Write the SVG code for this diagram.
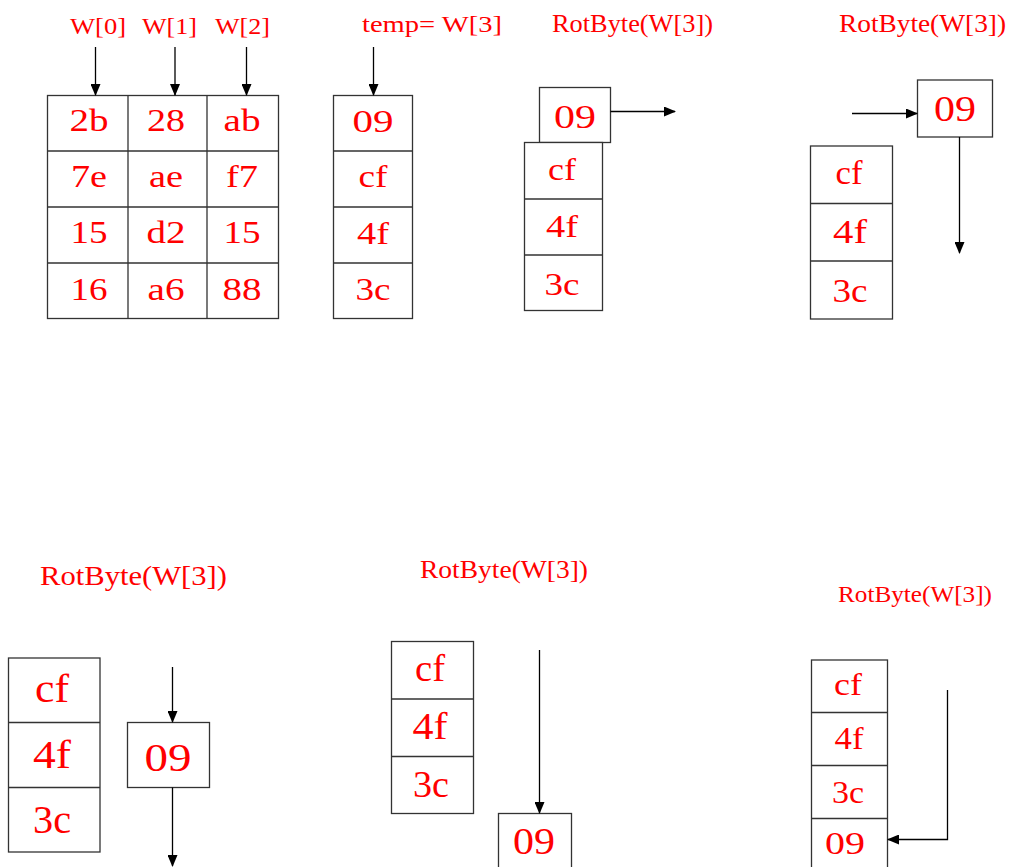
<svg xmlns="http://www.w3.org/2000/svg" width="1013" height="867" viewBox="0 0 1013 867">
<style>
.bx{fill:#fff;stroke:#333;stroke-width:1.3}
.ln{stroke:#333;stroke-width:1.3;fill:none}
.c{fill:#ff0000;font-family:"Liberation Serif",serif;text-anchor:middle}
.c text{lengthAdjust:spacingAndGlyphs}
.lb{fill:#ff0000;font-family:"Liberation Serif",serif}
.ar{stroke:#000;stroke-width:1.3;fill:none;marker-end:url(#ah)}
</style>
<defs>
<marker id="ah" markerUnits="userSpaceOnUse" markerWidth="12" markerHeight="10" refX="11" refY="5" orient="auto">
<path d="M0,0 L12,5 L0,10 Z" fill="#000"/>
</marker>
</defs>
<rect width="1013" height="867" fill="#fff"/>

<g id="panel1">
<text class="lb" x="70" y="34" font-size="24" textLength="56" lengthAdjust="spacingAndGlyphs">W[0]</text>
<text class="lb" x="142" y="34" font-size="24" textLength="55" lengthAdjust="spacingAndGlyphs">W[1]</text>
<text class="lb" x="215" y="34" font-size="24" textLength="55" lengthAdjust="spacingAndGlyphs">W[2]</text>
<rect class="bx" x="47.5" y="95.5" width="231" height="223"/>
<path class="ln" d="M128,95.5V318.5M207,95.5V318.5M47.5,151H278.5M47.5,207H278.5M47.5,263H278.5"/>
<g class="c" font-size="32">
<text x="89" y="131" textLength="39" lengthAdjust="spacingAndGlyphs">2b</text><text x="166" y="131" textLength="38" lengthAdjust="spacingAndGlyphs">28</text><text x="242" y="131" textLength="37" lengthAdjust="spacingAndGlyphs">ab</text>
<text x="89" y="187" textLength="36" lengthAdjust="spacingAndGlyphs">7e</text><text x="166" y="187" textLength="34" lengthAdjust="spacingAndGlyphs">ae</text><text x="242" y="187" textLength="32" lengthAdjust="spacingAndGlyphs">f7</text>
<text x="89" y="243" textLength="37" lengthAdjust="spacingAndGlyphs">15</text><text x="166" y="243" textLength="39" lengthAdjust="spacingAndGlyphs">d2</text><text x="242" y="243" textLength="37" lengthAdjust="spacingAndGlyphs">15</text>
<text x="89" y="300" textLength="37" lengthAdjust="spacingAndGlyphs">16</text><text x="166" y="300" textLength="37" lengthAdjust="spacingAndGlyphs">a6</text><text x="242" y="300" textLength="39" lengthAdjust="spacingAndGlyphs">88</text>
</g>
</g>

<g id="panel2">
<text class="lb" x="362" y="32" font-size="24" textLength="140" lengthAdjust="spacingAndGlyphs">temp= W[3]</text>
<rect class="bx" x="333.5" y="95.5" width="79" height="223"/>
<path class="ln" d="M333.5,151H412.5M333.5,207H412.5M333.5,263H412.5"/>
<g class="c" font-size="32">
<text x="373" y="131.5" textLength="41" lengthAdjust="spacingAndGlyphs">09</text><text x="373" y="187" textLength="29" lengthAdjust="spacingAndGlyphs">cf</text><text x="373" y="244" textLength="32" lengthAdjust="spacingAndGlyphs">4f</text><text x="373" y="300" textLength="35" lengthAdjust="spacingAndGlyphs">3c</text>
</g>
</g>

<g id="panel3">
<text class="lb" x="552" y="32" font-size="25" textLength="161" lengthAdjust="spacingAndGlyphs">RotByte(W[3])</text>
<rect class="bx" x="539.5" y="87.5" width="71" height="55"/>
<rect class="bx" x="524.5" y="142.5" width="78" height="168"/>
<path class="ln" d="M524.5,199H602.5M524.5,255H602.5"/>
<g class="c" font-size="34">
<text x="575" y="127.5" textLength="42" lengthAdjust="spacingAndGlyphs">09</text>
</g>
<g class="c" font-size="32">
<text x="562" y="180" textLength="28" lengthAdjust="spacingAndGlyphs">cf</text><text x="562" y="237" textLength="32" lengthAdjust="spacingAndGlyphs">4f</text><text x="562" y="295" textLength="35" lengthAdjust="spacingAndGlyphs">3c</text>
</g>
</g>

<g id="panel4">
<text class="lb" x="839" y="32" font-size="25" textLength="167" lengthAdjust="spacingAndGlyphs">RotByte(W[3])</text>
<rect class="bx" x="917.5" y="80" width="75" height="57"/>
<rect class="bx" x="810.5" y="146" width="82" height="173"/>
<path class="ln" d="M810.5,203.5H892.5M810.5,261H892.5"/>
<text class="c" x="955" y="121" font-size="36" textLength="42" lengthAdjust="spacingAndGlyphs">09</text>
<g class="c" font-size="33">
<text x="849" y="184" textLength="27" lengthAdjust="spacingAndGlyphs">cf</text><text x="850" y="243" textLength="34" lengthAdjust="spacingAndGlyphs">4f</text><text x="850" y="301.5" textLength="35" lengthAdjust="spacingAndGlyphs">3c</text>
</g>
</g>

<g id="panel5">
<text class="lb" x="40" y="585" font-size="28" textLength="187" lengthAdjust="spacingAndGlyphs">RotByte(W[3])</text>
<rect class="bx" x="8.5" y="658" width="91.5" height="194"/>
<path class="ln" d="M8.5,722.5H100M8.5,787.5H100"/>
<rect class="bx" x="127.5" y="722.5" width="82" height="65"/>
<g class="c" font-size="41">
<text x="52" y="702" textLength="34" lengthAdjust="spacingAndGlyphs">cf</text><text x="52" y="767.5" textLength="38" lengthAdjust="spacingAndGlyphs">4f</text><text x="52" y="833" textLength="38" lengthAdjust="spacingAndGlyphs">3c</text>
<text x="168" y="771" textLength="47" lengthAdjust="spacingAndGlyphs">09</text>
</g>
</g>

<g id="panel6">
<text class="lb" x="420" y="578" font-size="26" textLength="168" lengthAdjust="spacingAndGlyphs">RotByte(W[3])</text>
<rect class="bx" x="391.5" y="641.5" width="82" height="172"/>
<path class="ln" d="M391.5,699H473.5M391.5,756.5H473.5"/>
<rect class="bx" x="498.5" y="813.5" width="73" height="70"/>
<g class="c" font-size="37">
<text x="430" y="681" textLength="30" lengthAdjust="spacingAndGlyphs">cf</text><text x="430" y="738.5" textLength="35" lengthAdjust="spacingAndGlyphs">4f</text><text x="431" y="797" textLength="36" lengthAdjust="spacingAndGlyphs">3c</text>
<text x="534" y="854" textLength="42" lengthAdjust="spacingAndGlyphs">09</text>
</g>
</g>

<g id="panel7">
<text class="lb" x="838" y="602" font-size="23" textLength="154" lengthAdjust="spacingAndGlyphs">RotByte(W[3])</text>
<rect class="bx" x="811.5" y="660" width="76" height="220"/>
<path class="ln" d="M811.5,712.5H887.5M811.5,765.5H887.5M811.5,818.5H887.5"/>
<g class="c" font-size="31">
<text x="848" y="695" textLength="28" lengthAdjust="spacingAndGlyphs">cf</text><text x="849" y="748.5" textLength="29" lengthAdjust="spacingAndGlyphs">4f</text><text x="848" y="802.5" textLength="32" lengthAdjust="spacingAndGlyphs">3c</text>
<text x="845" y="854" textLength="40" lengthAdjust="spacingAndGlyphs">09</text>
</g>
</g>

<g id="connectors">
<path class="ar" d="M95.5,47V95"/>
<path class="ar" d="M175,47V95"/>
<path class="ar" d="M246.5,47V95"/>
<path class="ar" d="M373.5,47V95"/>
<path class="ar" d="M610.5,111.5H675"/>
<path class="ar" d="M852,113.5H917"/>
<path class="ar" d="M959.5,137V253"/>
<path class="ar" d="M172.5,667V722"/>
<path class="ar" d="M172.5,787.5V866"/>
<path class="ar" d="M539.5,650V813"/>
<path class="ar" d="M947.5,690V839.5H888"/>
</g>
</svg>
